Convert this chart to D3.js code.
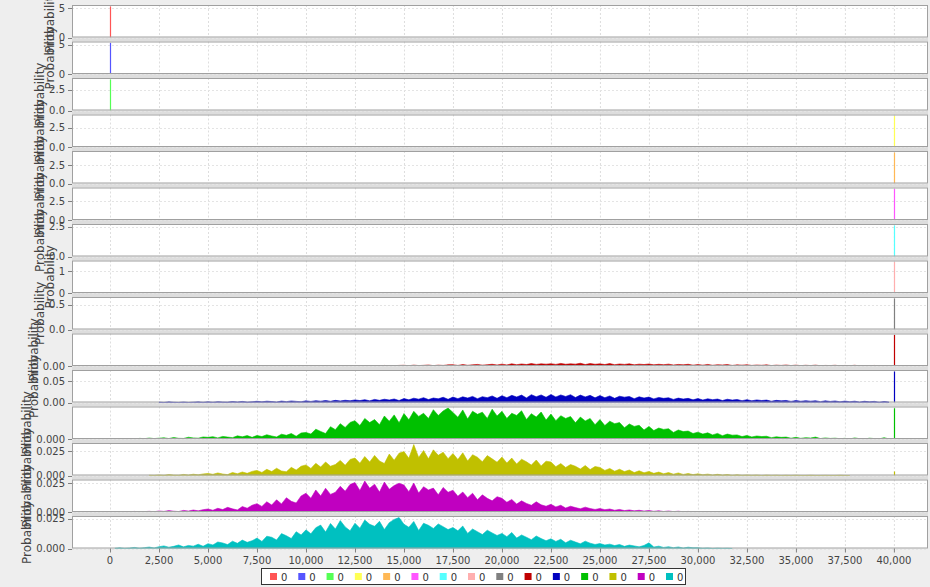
<!DOCTYPE html>
<html>
<head>
<meta charset="utf-8">
<title>Probability by value</title>
<script src="https://cdn.jsdelivr.net/npm/d3@7"></script>
<style>
  body { margin: 0; background: #eeeeee; }
  svg { display: block; font-family: "DejaVu Sans", sans-serif; }
</style>
</head>
<body>
<svg id="chart" width="930" height="587"></svg>
<script>
// ---- data ----
const xTicks = [0, 2500, 5000, 7500, 10000, 12500, 15000, 17500, 20000,
  22500, 25000, 27500, 30000, 32500, 35000, 37500, 40000];

const legendLabels = ["0", "0", "0", "0", "0", "0", "0", "0", "0", "0", "0", "0", "0", "0", "0"];
const seriesColors = ["#ff5555", "#5555ff", "#55ff55", "#ffff55", "#ffb855", "#ff55ff", "#55ffff",
  "#ffafaf", "#808080", "#c00000", "#0000c0", "#00c000", "#c0c000", "#c000c0", "#00c0c0"];

// single tall bars
const spikeX = [0, 0, 0, 40000, 40000, 40000, 40000, 40000, 40000, 40000, 40000, 40000, 40000, null, null];
const spikeY = [5.25, 5.3, 3.77, 4.05, 4.2, 4.1, 2.62, 1.41, 0.63, 0.043, 0.072, 0.0225, 0.004, null, null];

// y axis ticks per panel
const yTickValues = [[0, 5], [0, 5], [0, 2.5], [0, 2.5], [0, 2.5], [0, 2.5], [0, 2.5], [0, 1], [0, 0.5],
  [0], [0, 0.05], [0], [0, 0.025], [0, 0.025], [0, 0.025]];
const yTickDecimals = [0, 0, 1, 1, 1, 1, 1, 0, 1, 2, 2, 3, 3, 3, 3];

// spread-out series, probability x 10^-4, one value every 250
const binWidth = 250;
const distStart = [null, null, null, null, null, null, null, null, null, 12500, 2500, 1500, 2000, 1000, 250];

const darkRedDist = [
  3,0,5,2,6,0,8,3,5,8, 10,4,12,6,9,14,5,12,8,16, 18,8,20,10,16,22,12,18,24,14,
  26,15,30,18,28,20,34,22,30,25, 32,22,36,24,30,26,38,20,34,24, 30,20,34,18,28,22,30,16,26,20,
  28,16,24,18,26,14,22,16,24,12, 20,12,22,10,18,14,20,8,16,12, 18,8,14,10,16,6,12,8,14,6,
  12,5,10,6,12,4,8,6,10,3, 8,4,10,2,6,3,8,0,5,2];

const darkBlueDist = [
  10,0,15,5,0,12,0,8,15,5, 18,6,20,12,9,22,14,25,10,17, 28,16,30,22,12,32,20,35,26,18,
  38,24,42,30,46,28,50,36,52,40, 60,44,66,38,72,50,76,58,82,46, 92,62,100,78,112,68,104,86,122,74,
  126,90,132,104,142,88,136,112,152,98, 158,112,166,128,172,106,182,134,176,122,
  186,128,176,140,182,116,172,130,166,108, 160,112,152,96,146,124,140,88,132,104,
  126,84,118,96,110,72,102,80,96,62, 92,58,86,66,80,46,76,56,70,42, 66,40,60,46,56,30,50,38,48,26,
  46,28,42,30,40,20,38,24,35,16, 32,18,30,12,28,16,26,8,24,10];

const darkGreenDist = [
  5,2,7,3,
  6,9,3,11,5,4,13,8,6,15, 12,17,8,19,14,10,23,16,25,12, 26,18,31,22,15,35,27,40,20,44,
  48,36,72,55,40,90,68,112,84,121, 134,98,150,120,142,104,168,130,176,118,
  186,140,202,165,188,150,214,172,205,226, 194,158,212,146,203,180,196,150,218,168,
  202,150,188,172,206,142,185,160,197,138, 182,134,170,150,164,118,160,132,150,104,
  142,98,130,112,120,82,110,92,100,66, 92,62,80,70,75,48,66,54,58,40,
  50,36,45,30,41,24,36,28,30,18, 26,15,22,18,20,10,16,12,14,6, 12,5,10,7,14,3,8,4,6,2,
  5,0,8,2,0,6,3,0,10,0];

const darkYellowDist = [
  3,1,
  6,2,9,4,3,11,5,13,7,16, 21,12,26,15,9,31,18,36,22,42, 52,31,63,40,74,46,38,83,55,94,
  108,72,124,86,138,95,112,154,104,164, 178,126,194,138,205,148,122,219,156,228,
  244,176,316,184,255,170,262,206,238,172, 224,163,232,148,212,186,140,203,170,136,
  188,128,178,118,166,140,106,158,98,146, 138,90,122,82,112,94,66,102,60,92,
  82,52,72,44,64,40,56,30,48,28, 42,22,35,18,30,14,26,11,20,9, 17,8,14,6,12,5,10,3,8,2,
  6,2,5,0,4,1,3,0,2,0, 3,0,0,2,0,0,1,0,0,2,0,0];

const darkMagentaDist = [
  2,5,1,3,6,2,
  9,5,12,7,4,14,8,17,10,20, 26,15,32,21,40,27,18,47,33,58, 72,48,88,60,105,70,123,92,78,138,
  162,118,190,138,205,152,170,222,180,238, 254,186,267,205,240,172,258,196,228,248,
  232,175,250,163,218,190,206,148,212,170, 188,136,172,124,162,105,148,118,96,132,
  118,84,108,68,96,74,58,88,62,50, 66,44,58,34,50,38,28,42,30,22, 30,20,26,15,22,12,18,10,15,8,
  13,6,11,4,9,3,7,2,5,2, 3,0,2,0];

const darkCyanDist = [
  2,6,1,4,9,3,7,12,5,
  15,22,11,18,30,14,26,20,36,19, 41,30,55,47,33,62,44,71,52,66, 88,60,104,95,72,126,108,84,142,115,
  158,124,176,198,140,212,165,236,183,150, 214,172,241,205,188,230,160,219,246,262,
  205,180,229,152,214,196,170,208,185,160, 178,150,190,128,165,142,118,155,132,110,
  128,100,136,88,115,95,74,106,84,66, 82,60,78,48,70,55,40,62,45,34, 42,30,37,25,34,18,29,22,14,26,
  48,12,20,9,15,7,13,4,11,6, 7,2,5,0,3,1,2,0];

const distValues = [null, null, null, null, null, null, null, null, null,
  darkRedDist, darkBlueDist, darkGreenDist, darkYellowDist, darkMagentaDist, darkCyanDist];

// ---- layout ----
const svg = d3.select("#chart");
const plotLeft = 72, plotRight = 928;
const firstTop = 5, panelHeight = 32.5, panelGap = 4;
const bottomOf = i => firstTop + i * (panelHeight + panelGap) + panelHeight;

const x = d3.scaleLinear().domain([-1940, 41740]).range([plotLeft, plotRight]);

svg.append("rect").attr("width", 930).attr("height", 587).attr("fill", "#eeeeee");
// gap colour behind the panels
svg.append("rect")
  .attr("x", plotLeft).attr("y", firstTop)
  .attr("width", plotRight - plotLeft).attr("height", bottomOf(14) - firstTop)
  .attr("fill", "#dddddd");

const defs = svg.append("defs");

legendLabels.forEach(function(lab, i) {
  const top = firstTop + i * (panelHeight + panelGap);
  const bottom = top + panelHeight;

  // points of the spread series
  const pts = distValues[i] ? distValues[i].map(function(v, k) {
    return [distStart[i] + k * binWidth, v / 10000];
  }) : [];
  const yMax = 1.05 * d3.max([spikeY[i] || 0, d3.max(pts, d => d[1]) || 0]);
  const y = d3.scaleLinear().domain([0, yMax]).range([bottom, top]);

  const g = svg.append("g").attr("class", "panel");
  g.append("rect")
    .attr("x", plotLeft).attr("y", top)
    .attr("width", plotRight - plotLeft).attr("height", panelHeight)
    .attr("fill", "#ffffff");

  // grid
  g.selectAll(".vgrid").data(xTicks).join("line")
    .attr("x1", d => x(d) + 0.5).attr("x2", d => x(d) + 0.5)
    .attr("y1", top).attr("y2", bottom)
    .attr("stroke", "#dedede").attr("stroke-width", 1).attr("stroke-dasharray", "2,2");
  g.selectAll(".hgrid").data(yTickValues[i]).join("line")
    .attr("x1", plotLeft).attr("x2", plotRight)
    .attr("y1", d => Math.round(y(d)) + 0.5).attr("y2", d => Math.round(y(d)) + 0.5)
    .attr("stroke", "#e4e4e4").attr("stroke-width", 1).attr("stroke-dasharray", "2,2");

  defs.append("clipPath").attr("id", "clip" + i)
    .append("rect").attr("x", plotLeft).attr("y", top)
    .attr("width", plotRight - plotLeft).attr("height", panelHeight);
  const data = g.append("g").attr("clip-path", "url(#clip" + i + ")");

  if (pts.length) {
    const area = d3.area().x(d => x(d[0])).y0(bottom).y1(d => y(d[1]));
    data.append("path").datum(pts)
      .attr("d", area)
      .attr("fill", seriesColors[i])
      .attr("stroke", seriesColors[i])
      .attr("stroke-width", 0.6);
  }
  if (spikeX[i] !== null) {
    data.append("line")
      .attr("x1", Math.round(x(spikeX[i])) + 0.5).attr("x2", Math.round(x(spikeX[i])) + 0.5)
      .attr("y1", bottom).attr("y2", y(spikeY[i]))
      .attr("stroke", seriesColors[i]).attr("stroke-width", 1.2);
  }

  // outline
  g.append("rect")
    .attr("x", plotLeft + 0.5).attr("y", top + 0.5)
    .attr("width", plotRight - plotLeft - 1).attr("height", panelHeight - 1)
    .attr("fill", "none").attr("stroke", "#a0a0a0");

  // y axis
  const fmt = d3.format("." + yTickDecimals[i] + "f");
  g.selectAll(".ytick").data(yTickValues[i]).join("line")
    .attr("x1", plotLeft - 4).attr("x2", plotLeft)
    .attr("y1", d => Math.round(y(d)) + 0.5).attr("y2", d => Math.round(y(d)) + 0.5)
    .attr("stroke", "#808080");
  const labels = g.selectAll(".ylab").data(yTickValues[i]).join("text")
    .attr("x", plotLeft - 7).attr("y", d => y(d))
    .attr("dy", "0.35em")
    .attr("text-anchor", "end")
    .attr("font-size", 10)
    .attr("fill", "#444444")
    .text(d => fmt(d));
  const widest = d3.max(labels.nodes(), n => n.getComputedTextLength());
  const lx = plotLeft - 7 - widest - 5;
  g.append("text")
    .attr("transform", "translate(" + lx + "," + (top + panelHeight / 2) + ") rotate(-90)")
    .attr("text-anchor", "middle")
    .attr("font-size", 12)
    .attr("fill", "#444444")
    .text("Probability");
});

// x axis
const axisY = bottomOf(14);
svg.selectAll(".xtick").data(xTicks).join("line")
  .attr("x1", d => x(d) + 0.5).attr("x2", d => x(d) + 0.5)
  .attr("y1", axisY).attr("y2", axisY + 4)
  .attr("stroke", "#808080");
svg.selectAll(".xlab").data(xTicks).join("text")
  .attr("x", d => x(d)).attr("y", axisY + 15)
  .attr("text-anchor", "middle")
  .attr("font-size", 10)
  .attr("fill", "#444444")
  .text(d => d3.format(",")(d));

// legend
const legend = svg.append("g");
legend.append("rect")
  .attr("x", 261.5).attr("y", 568.5).attr("width", 424).attr("height", 16)
  .attr("fill", "#ffffff").attr("stroke", "#333333");
const lx = d3.scalePoint().domain(d3.range(legendLabels.length)).range([270, 666]);
legend.selectAll(".sw").data(legendLabels).join("rect")
  .attr("x", (d, i) => lx(i)).attr("y", 573)
  .attr("width", 7).attr("height", 7)
  .attr("fill", (d, i) => seriesColors[i]);
legend.selectAll(".lt").data(legendLabels).join("text")
  .attr("x", (d, i) => lx(i) + 11).attr("y", 580.5)
  .attr("font-size", 10)
  .attr("fill", "#333333")
  .text(d => d);
</script>
</body>
</html>
